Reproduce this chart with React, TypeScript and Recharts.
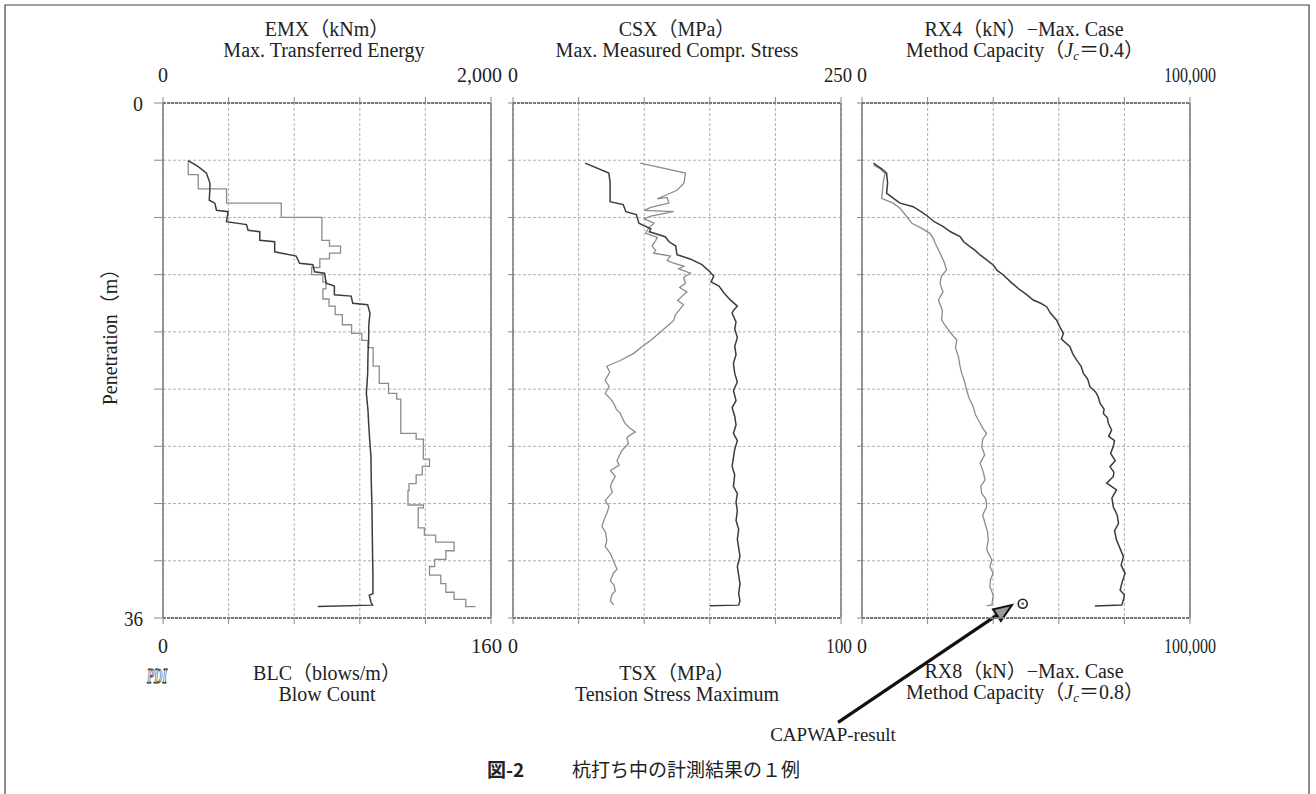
import { ComposedChart, Line, XAxis, YAxis, CartesianGrid, ReferenceDot, ReferenceLine } from 'recharts'

const SERIF = '"Liberation Serif", "DejaVu Serif", "Noto Sans CJK JP", serif'
const CJK = '"Noto Sans CJK JP", sans-serif'

type Pt = [number, number] // [depth m, value]

// ticks
const DEPTH_TICKS = [0, 4, 8, 12, 16, 20, 24, 28, 32, 36]
const EMX_TICKS = [0, 400, 800, 1200, 1600, 2000]
const BLC_TICKS = [0, 32, 64, 96, 128, 160]
const CSX_TICKS = [0, 50, 100, 150, 200, 250]
const TSX_TICKS = [0, 20, 40, 60, 80, 100]
const RX_TICKS = [0, 20000, 40000, 60000, 80000, 100000]

// EMX (kNm)
const EMX: Pt[] = [
  [4.03, 154], [4.45, 215], [4.9, 265], [5.6, 286], [6.0, 286], [6.8, 282], [7.0, 316], [7.5, 326],
  [7.6, 397], [8.3, 387], [8.5, 509], [8.9, 519], [9.0, 590], [9.6, 590], [9.7, 681], [10.4, 681],
  [10.7, 812], [11.2, 833], [11.3, 914], [11.8, 924], [11.9, 985], [12.6, 995], [12.8, 1045], [13.4, 1045],
  [13.5, 1147], [14.0, 1157], [14.1, 1248], [14.7, 1262], [15.5, 1255], [16.6, 1254], [17.5, 1250],
  [18.9, 1248], [20.3, 1240], [21.5, 1250], [22.4, 1254], [23.5, 1260], [24.7, 1268], [26.5, 1270],
  [28.2, 1274], [30.0, 1276], [31.7, 1278], [33.0, 1280], [34.3, 1280], [34.4, 1258], [34.9, 1268],
  [35.1, 1278], [35.2, 944],
]

// BLC (blows/m) — start depth of each step, value
const BLC_STEPS: Pt[] = [
  [4.0, 12.3], [5.0, 17.2], [6.0, 31], [7.0, 57.7], [8.0, 77.5], [9.6, 81.2], [10.0, 86.6], [10.5, 81.2],
  [10.9, 76.5], [11.5, 72.5], [12.0, 78], [12.5, 79.5], [13.0, 78], [13.7, 81], [14.2, 84], [14.8, 87.5],
  [15.5, 92], [16.1, 97], [16.6, 100], [17.1, 102.5], [18.4, 105.5], [19.6, 110], [20.3, 114], [20.7, 116],
  [23.1, 123.5], [23.5, 127], [24.9, 130], [25.4, 126.5], [26.0, 123.5], [26.6, 120], [27.1, 119.5],
  [28.1, 127], [28.3, 124.5], [29.7, 127.5], [30.2, 133], [30.7, 142], [31.3, 138], [31.9, 132.5],
  [32.4, 130], [33.0, 135.5], [33.6, 138], [34.2, 142], [34.7, 147.7], [35.2, 152.5],
]

// CSX (MPa)
const CSX: Pt[] = [
  [4.2, 55], [4.9, 73], [5.5, 74], [6.2, 74], [6.9, 74], [7.1, 84], [7.6, 86], [7.8, 94], [8.4, 96],
  [8.8, 105], [9.0, 104], [9.35, 116], [9.7, 119], [10.0, 124], [10.6, 125], [10.9, 135], [11.3, 144],
  [11.8, 150], [12.1, 153], [12.5, 151], [12.8, 157], [13.3, 161], [13.8, 166], [14.2, 171], [14.5, 168],
  [14.7, 167], [15.3, 170], [15.8, 169], [16.4, 171], [17.0, 169], [17.6, 170], [18.2, 168], [18.9, 169],
  [19.5, 171], [20.1, 168], [20.8, 170], [21.3, 167], [21.9, 169], [22.5, 170], [23.1, 168], [23.6, 171],
  [24.2, 169], [24.8, 168], [25.4, 167], [26.0, 169], [26.8, 168], [27.3, 171], [27.9, 170], [28.5, 171],
  [29.2, 170], [29.8, 172], [30.5, 171], [31.1, 172], [31.7, 173], [32.4, 171], [33.0, 172], [33.6, 173],
  [34.3, 172], [34.8, 173], [35.1, 172], [35.15, 150],
]

// TSX (MPa)
const TSX: Pt[] = [
  [4.2, 38.8], [4.9, 52.6], [5.6, 52.1], [6.1, 50], [6.5, 46], [6.7, 44], [6.6, 47], [7.0, 47.5], [7.3, 42],
  [7.5, 40], [7.6, 49], [7.9, 42], [8.1, 40], [8.4, 43], [8.7, 41.5], [9.1, 40.4], [9.4, 44], [9.6, 43.5],
  [10.0, 42.4], [10.3, 43.5], [10.5, 42.9], [10.7, 48], [11.0, 47], [11.2, 49], [11.4, 52.1], [11.6, 50.5],
  [11.9, 54.1], [12.2, 52], [12.6, 52.6], [12.9, 50.8], [13.2, 53], [13.5, 51.6], [13.8, 50.2], [14.1, 52],
  [14.5, 50.6], [14.8, 49.5], [15.2, 49], [15.5, 47.5], [15.8, 46], [16.2, 44], [16.6, 41.9], [17.0, 39.5],
  [17.5, 36.8], [18.0, 32.7], [18.4, 28.6], [18.8, 29.5], [19.4, 28.1], [19.8, 29.3], [20.3, 28.1],
  [20.7, 29.8], [21.0, 30.7], [21.4, 31.5], [21.7, 32.7], [22.1, 33.5], [22.4, 34.2], [22.7, 35.5],
  [23.0, 37.3], [23.2, 35.8], [23.4, 34.7], [23.8, 35.2], [24.3, 33.2], [24.6, 32.5], [25.0, 31.7],
  [25.3, 32.4], [25.7, 29.7], [26.1, 31.2], [26.5, 30.2], [26.8, 29.7], [27.2, 30.3], [27.8, 28.1],
  [28.2, 29.3], [28.7, 28.6], [29.1, 27.8], [29.6, 27.1], [30.0, 28.2], [30.6, 28.6], [31.0, 28.1],
  [31.5, 29.7], [32.0, 30.6], [32.6, 31.7], [32.9, 30.5], [33.4, 29.7], [33.7, 30.8], [34.1, 31.2],
  [34.4, 30.1], [34.8, 29.7], [35.1, 30.7],
]

// RX4 (kN)
const RX4: Pt[] = [
  [4.2, 3500], [4.6, 6000], [4.9, 7500], [5.6, 7800], [6.3, 7500], [6.7, 9800], [7.0, 11600], [7.25, 15600],
  [7.6, 18000], [7.95, 20200], [8.3, 22000], [8.64, 24800], [9.0, 27000], [9.34, 29900], [9.7, 31000],
  [10.04, 32900], [10.3, 34500], [10.62, 36000], [11.0, 38200], [11.32, 40000], [11.7, 41200],
  [12.02, 43100], [12.5, 45300], [13.07, 48200], [13.4, 50200], [13.77, 52200], [14.0, 54500],
  [14.24, 56300], [14.7, 57500], [15.17, 59300], [15.6, 60200], [16.1, 61400], [16.5, 60800],
  [17.03, 63400], [17.5, 64200], [17.96, 65400], [18.4, 66800], [18.9, 67500], [19.3, 68800],
  [19.83, 69500], [20.2, 71200], [20.53, 72000], [21.0, 72600], [21.4, 73800], [21.7, 73600],
  [22.0, 74800], [22.39, 75100], [22.86, 76100], [23.3, 75200], [23.6, 77000], [24.02, 76600],
  [24.5, 75800], [25.0, 77200], [25.42, 75600], [25.8, 76800], [26.12, 76600], [26.58, 74600],
  [27.05, 77600], [27.6, 76200], [28.22, 76600], [28.8, 77800], [29.38, 78200], [29.9, 77000],
  [30.55, 77600], [31.1, 78600], [31.71, 79700], [32.3, 79000], [32.88, 80200], [33.5, 79300],
  [34.05, 78700], [34.4, 80000], [34.75, 79700], [35.09, 79200], [35.16, 71000],
]

// RX8 (kN)
const RX8: Pt[] = [
  [4.33, 3500], [4.6, 5500], [4.92, 7000], [5.5, 6500], [6.2, 6200], [6.66, 6000], [7.0, 9500],
  [7.36, 11600], [7.9, 13500], [8.41, 15200], [8.8, 18500], [9.11, 20700], [9.5, 21800], [9.81, 22300],
  [10.2, 23200], [10.51, 23800], [11.1, 25000], [11.67, 25800], [12.1, 24200], [12.61, 23800],
  [13.2, 24700], [13.77, 23300], [14.5, 24500], [15.17, 24300], [15.5, 25200], [15.87, 26400],
  [16.2, 27500], [16.57, 28900], [17.1, 28500], [17.73, 29400], [18.3, 29800], [18.9, 30400],
  [19.5, 31300], [20.06, 31900], [20.6, 32600], [21.23, 33900], [21.8, 34600], [22.39, 36000],
  [22.8, 37000], [23.09, 38000], [23.5, 36800], [24.02, 36500], [24.6, 37400], [25.19, 36000],
  [25.8, 37000], [26.35, 37500], [26.8, 36200], [27.28, 36500], [27.7, 37800], [28.22, 38000],
  [28.8, 36800], [29.38, 37500], [30.0, 38300], [30.55, 38500], [31.2, 38000], [31.95, 39600],
  [32.4, 39000], [32.88, 40000], [33.3, 39200], [33.81, 39000], [34.4, 40000], [35.09, 39600],
  [35.16, 38000],
]

// CAPWAP result [depth, kN] and the arrow pointing at it
const CAPWAP: Pt = [35.0, 49000]
const ARROW_FROM: Pt = [43.3, -7300]
const ARROW_TO: Pt = [35.1, 45700]

const rows = (pts: Pt[]) => pts.map(([d, v]) => ({ d, v }))
const stepRows = (steps: Pt[]) => {
  const out: { d: number; v: number }[] = []
  steps.forEach(([d, v], i) => {
    out.push({ d, v })
    if (i < steps.length - 1) out.push({ d: steps[i + 1][0], v })
  })
  return out
}

const LABEL_W: Record<string, number> = {
  '0': 10, '2,000': 45, '250': 28, '100,000': 52, '160': 31, '100': 26, '36': 19,
}
const fmt = (v: number) => v.toString().replace(/\B(?=(\d{3})+(?!\d))/g, ',')

const DARK = '#3c3c3c'
const LIGHT = '#8c8c8c'
const PLOT_W = 328
const Y_W = 60

function xTick(max: number, baseline: number, endRight: boolean) {
  return (p: any) => {
    const v = p.payload.value
    if (v !== 0 && v !== max) return <g />
    const s = fmt(v)
    const isEnd = v === max && endRight
    return (
      <text x={isEnd ? p.x + 11 : p.x} y={baseline} textAnchor={isEnd ? 'end' : 'middle'}
        fontFamily={SERIF} fontSize={22} fill="#222" textLength={LABEL_W[s]} lengthAdjust="spacingAndGlyphs">{s}</text>
    )
  }
}

const yTick = (p: any) => {
  const v = p.payload.value
  if (v !== 0 && v !== 36) return <g />
  const s = String(v)
  return (
    <text x={40} y={p.y + 8} textAnchor="end" fontFamily={SERIF} fontSize={22} fill="#222"
      textLength={LABEL_W[s]} lengthAdjust="spacingAndGlyphs">{s}</text>
  )
}
const noTick = () => <g />

const Arrow = (p: any) => {
  const { x1, y1, x2, y2 } = p
  const ang = Math.atan2(y2 - y1, x2 - x1)
  const L = 18
  const W = 7
  const bx = x2 - L * Math.cos(ang)
  const by = y2 - L * Math.sin(ang)
  const nx = -Math.sin(ang) * W
  const ny = Math.cos(ang) * W
  return (
    <g>
      <line x1={x1} y1={y1} x2={bx} y2={by} stroke="#111" strokeWidth={3.2} />
      <polygon points={`${x2},${y2} ${bx + nx},${by + ny} ${bx - nx},${by - ny}`} fill="#999" stroke="#111" strokeWidth={2} />
    </g>
  )
}

const CapwapDot = (p: any) => (
  <g>
    <circle cx={p.cx} cy={p.cy} r={4.5} fill="#fff" stroke="#222" strokeWidth={1.6} />
    <circle cx={p.cx} cy={p.cy} r={1.4} fill="#777" />
  </g>
)

interface PanelProps {
  plotLeft: number
  topTicks: number[]
  botTicks: number[]
  dark: { d: number; v: number }[]
  light: { d: number; v: number }[]
  first?: boolean
  last?: boolean
}

function Panel({ plotLeft, topTicks, botTicks, dark, light, first, last }: PanelProps) {
  const topMax = topTicks[topTicks.length - 1]
  const botMax = botTicks[botTicks.length - 1]
  const axisStyle = { stroke: '#7a7a7a', strokeWidth: 2, strokeDasharray: '3 1' }
  return (
    <div style={{ position: 'absolute', left: plotLeft - Y_W, top: 0 }}>
      <ComposedChart width={Y_W * 2 + PLOT_W} height={794} layout="vertical"
        margin={{ top: 73, right: Y_W, bottom: 146, left: 0 }}>
        <CartesianGrid xAxisId="top" yAxisId="d" stroke="#b0b0b0" strokeDasharray="3 2" />
        <XAxis xAxisId="top" orientation="top" type="number" domain={[0, topMax]} ticks={topTicks}
          height={30} tickSize={6} axisLine={axisStyle} tickLine={{ stroke: '#888' }}
          tick={xTick(topMax, 82, !last)} interval={0} allowDataOverflow />
        <XAxis xAxisId="bot" orientation="bottom" type="number" domain={[0, botMax]} ticks={botTicks}
          height={30} tickSize={6} axisLine={axisStyle} tickLine={{ stroke: '#888' }}
          tick={xTick(botMax, 653, !last)} interval={0} allowDataOverflow />
        <YAxis yAxisId="d" type="number" dataKey="d" domain={[0, 36]} ticks={DEPTH_TICKS} width={Y_W}
          tickSize={first ? 9 : 5} axisLine={{ stroke: '#777', strokeWidth: 1.5 }} tickLine={{ stroke: '#888' }}
          tick={first ? yTick : noTick} interval={0} allowDataOverflow />
        <ReferenceLine xAxisId="top" yAxisId="d" x={topMax} stroke="#777" strokeWidth={1.5} />
        <Line data={light} dataKey="v" xAxisId="bot" yAxisId="d" type="linear" stroke={LIGHT}
          strokeWidth={1.3} dot={false} isAnimationActive={false} />
        <Line data={dark} dataKey="v" xAxisId="top" yAxisId="d" type="linear" stroke={DARK}
          strokeWidth={1.5} dot={false} isAnimationActive={false} />
        {last && (
          <ReferenceDot xAxisId="bot" yAxisId="d" x={CAPWAP[1]} y={CAPWAP[0]} r={4.5} shape={CapwapDot} ifOverflow="visible" />
        )}
        {last && (
          <ReferenceLine xAxisId="bot" yAxisId="d" ifOverflow="visible" shape={Arrow}
            segment={[{ x: ARROW_FROM[1], y: ARROW_FROM[0] }, { x: ARROW_TO[1], y: ARROW_TO[0] }]} />
        )}
      </ComposedChart>
    </div>
  )
}

const T = { fontFamily: SERIF, fontSize: 20, fill: '#222' }

export default function App() {
  return (
    <div style={{ position: 'absolute', left: 0, top: 0, width: 1316, height: 794, overflow: 'hidden', background: '#fff' }}>
      <Panel plotLeft={163} topTicks={EMX_TICKS} botTicks={BLC_TICKS} dark={rows(EMX)} light={stepRows(BLC_STEPS)} first />
      <Panel plotLeft={513} topTicks={CSX_TICKS} botTicks={TSX_TICKS} dark={rows(CSX)} light={rows(TSX)} />
      <Panel plotLeft={862} topTicks={RX_TICKS} botTicks={RX_TICKS} dark={rows(RX4)} light={rows(RX8)} last />
      <svg width={1316} height={794} style={{ position: 'absolute', left: 0, top: 0, pointerEvents: 'none' }}>
        <polyline points="5,794 5,5 1309,5 1309,794" fill="none" stroke="#444" strokeWidth={1.2} />
        <text {...T} x={327} y={36} textAnchor="middle">EMX（kNm）</text>
        <text {...T} x={324} y={57} textAnchor="middle">Max. Transferred Energy</text>
        <text {...T} x={677} y={36} textAnchor="middle">CSX（MPa）</text>
        <text {...T} x={677} y={57} textAnchor="middle">Max. Measured Compr. Stress</text>
        <text {...T} x={1024} y={36} textAnchor="middle">RX4（kN）−Max. Case</text>
        <text {...T} x={1025} y={57} textAnchor="middle">
          Method Capacity（<tspan fontStyle="italic">J</tspan><tspan fontStyle="italic" fontSize={13} dy={3}>c</tspan><tspan dy={-3}>＝0.4）</tspan>
        </text>
        <text {...T} x={327} y={680} textAnchor="middle">BLC（blows/m）</text>
        <text {...T} x={327} y={701} textAnchor="middle">Blow Count</text>
        <text {...T} x={677} y={680} textAnchor="middle">TSX（MPa）</text>
        <text {...T} x={677} y={701} textAnchor="middle">Tension Stress Maximum</text>
        <text {...T} x={1024} y={678} textAnchor="middle">RX8（kN）−Max. Case</text>
        <text {...T} x={1025} y={699} textAnchor="middle">
          Method Capacity（<tspan fontStyle="italic">J</tspan><tspan fontStyle="italic" fontSize={13} dy={3}>c</tspan><tspan dy={-3}>＝0.8）</tspan>
        </text>
        <text {...T} x={110} y={332} textAnchor="middle" dominantBaseline="central"
          transform="rotate(-90 110 332)">Penetration（m）</text>
        <text x={147} y={683} fontFamily={SERIF} fontSize={22} fontWeight="bold" fontStyle="italic"
          fill="#fff" stroke="#222" strokeWidth={0.9} textLength={20} lengthAdjust="spacingAndGlyphs">PDI</text>
        <text {...T} fontSize={19} x={833} y={741} textAnchor="middle">CAPWAP-result</text>
        <text x={487} y={777} fontFamily={CJK} fontSize={19} fontWeight="bold" fill="#222">図-2</text>
        <text x={572} y={777} fontFamily={CJK} fontSize={19} fill="#222">杭打ち中の計測結果の１例</text>
      </svg>
    </div>
  )
}
